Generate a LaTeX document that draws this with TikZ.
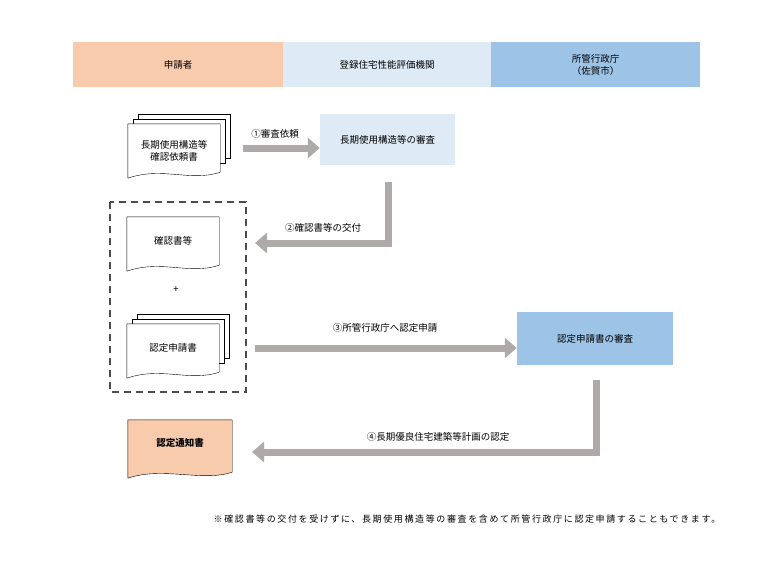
\documentclass[tikz,border=0pt]{standalone}
\usepackage{fontspec}
\setmainfont{Noto Sans CJK JP}
\usetikzlibrary{arrows.meta,positioning}
\definecolor{applicant}{HTML}{F8CBAD}
\definecolor{agency}{HTML}{DEEBF7}
\definecolor{office}{HTML}{9DC3E6}
\definecolor{flow}{HTML}{AEAAAA}
\newcommand{\paperOutline}[2]{%
  \draw[fill=#2] (#1.north west) -- (#1.north east) -- ([yshift=6pt]#1.south east)
    .. controls +(-30,10) and +(35,-12) .. (#1.south west) -- cycle;}
\newcommand{\paperStack}[1]{%
  \draw[fill=white] ([shift={(10pt,10pt)}]#1.north west) rectangle ([shift={(10pt,20pt)}]#1.south east);
  \draw[fill=white] ([shift={(5pt,5pt)}]#1.north west) rectangle ([shift={(5pt,15pt)}]#1.south east);}

\begin{document}
\begin{tikzpicture}[x=1pt,y=-1pt,font=\fontsize{9.5}{12}\selectfont]
  \tikzset{band/.style={minimum height=45pt,inner sep=0pt,align=center},
    paper/.style={minimum width=92pt,minimum height=54pt,align=center,inner sep=0pt},
    task/.style={minimum height=51pt,inner sep=0pt,align=center},
    flowline/.style={draw=flow,line width=7pt,-{Triangle[length=12pt,width=20pt]},color=flow},
    flowlabel/.style={inner sep=1pt}}
  \useasboundingbox (0,0) rectangle (768,576);
  % header
  \node[band,fill=applicant,minimum width=210pt] (hApplicant) at (178,64.5) {申請者};
  \node[band,fill=agency,minimum width=208pt] (hAgency) at (387,64.5) {登録住宅性能評価機関};
  \node[band,fill=office,minimum width=209pt] (hOffice) at (595.5,64.5) {所管行政庁\\（佐賀市）};
  % documents
  \node[paper] (request) at (174,151) {};
  \paperStack{request}
  \paperOutline{request}{white}
  \node[align=center] at (request) {長期使用構造等\\確認依頼書};
  \draw[line width=1.5pt,dash pattern=on 7pt off 5pt,color=black!70] (110,202) rectangle (246,392);
  \node[paper] (confirm) at (173,244) {};
  \paperOutline{confirm}{white}
  \node at ([yshift=3pt]confirm) {確認書等};
  \node (plus) at (176,290) {+};
  \node[paper] (apply) at (173,351) {};
  \paperStack{apply}
  \paperOutline{apply}{white}
  \node at ([yshift=3pt]apply) {認定申請書};
  \node[paper,minimum width=104pt,minimum height=58pt] (notice) at (180,449) {};
  \paperOutline{notice}{applicant}
  \node[font=\fontsize{9.5}{12}\bfseries] at ([yshift=6pt]notice) {認定通知書};
  % reviews
  \node[task,fill=agency,minimum width=135pt] (review1) at (387.5,139.5) {長期使用構造等の審査};
  \node[task,fill=office,minimum width=156pt,minimum height=53pt] (review2) at (595,338.5) {認定申請書の審査};
  % flows
  \coordinate (a1) at (243,148);
  \coordinate (b2) at (388,182);
  \coordinate (a2) at (255,243);
  \coordinate (a3) at (255,348);
  \coordinate (b4) at (596,380);
  \coordinate (a4) at (252,452);
  \draw[flowline] (a1) -- (a1 -| review1.west);
  \draw[flowline] (b2) |- (a2);
  \draw[flowline] (a3) -- (a3 -| review2.west);
  \draw[flowline] (b4) |- (a4);
  \node[flowlabel] (s1) at (275,134) {①審査依頼};
  \node[flowlabel] (s2) at (323,228) {②確認書等の交付};
  \node[flowlabel] (s3) at (385,328) {③所管行政庁へ認定申請};
  \node[flowlabel] (s4) at (438,437) {④長期優良住宅建築等計画の認定};
  \node[font=\fontsize{9}{11}\selectfont\addfontfeatures{LetterSpace=18}] (note) at (467,519) {※確認書等の交付を受けずに、長期使用構造等の審査を含めて所管行政庁に認定申請することもできます。};
\end{tikzpicture}
\end{document}
